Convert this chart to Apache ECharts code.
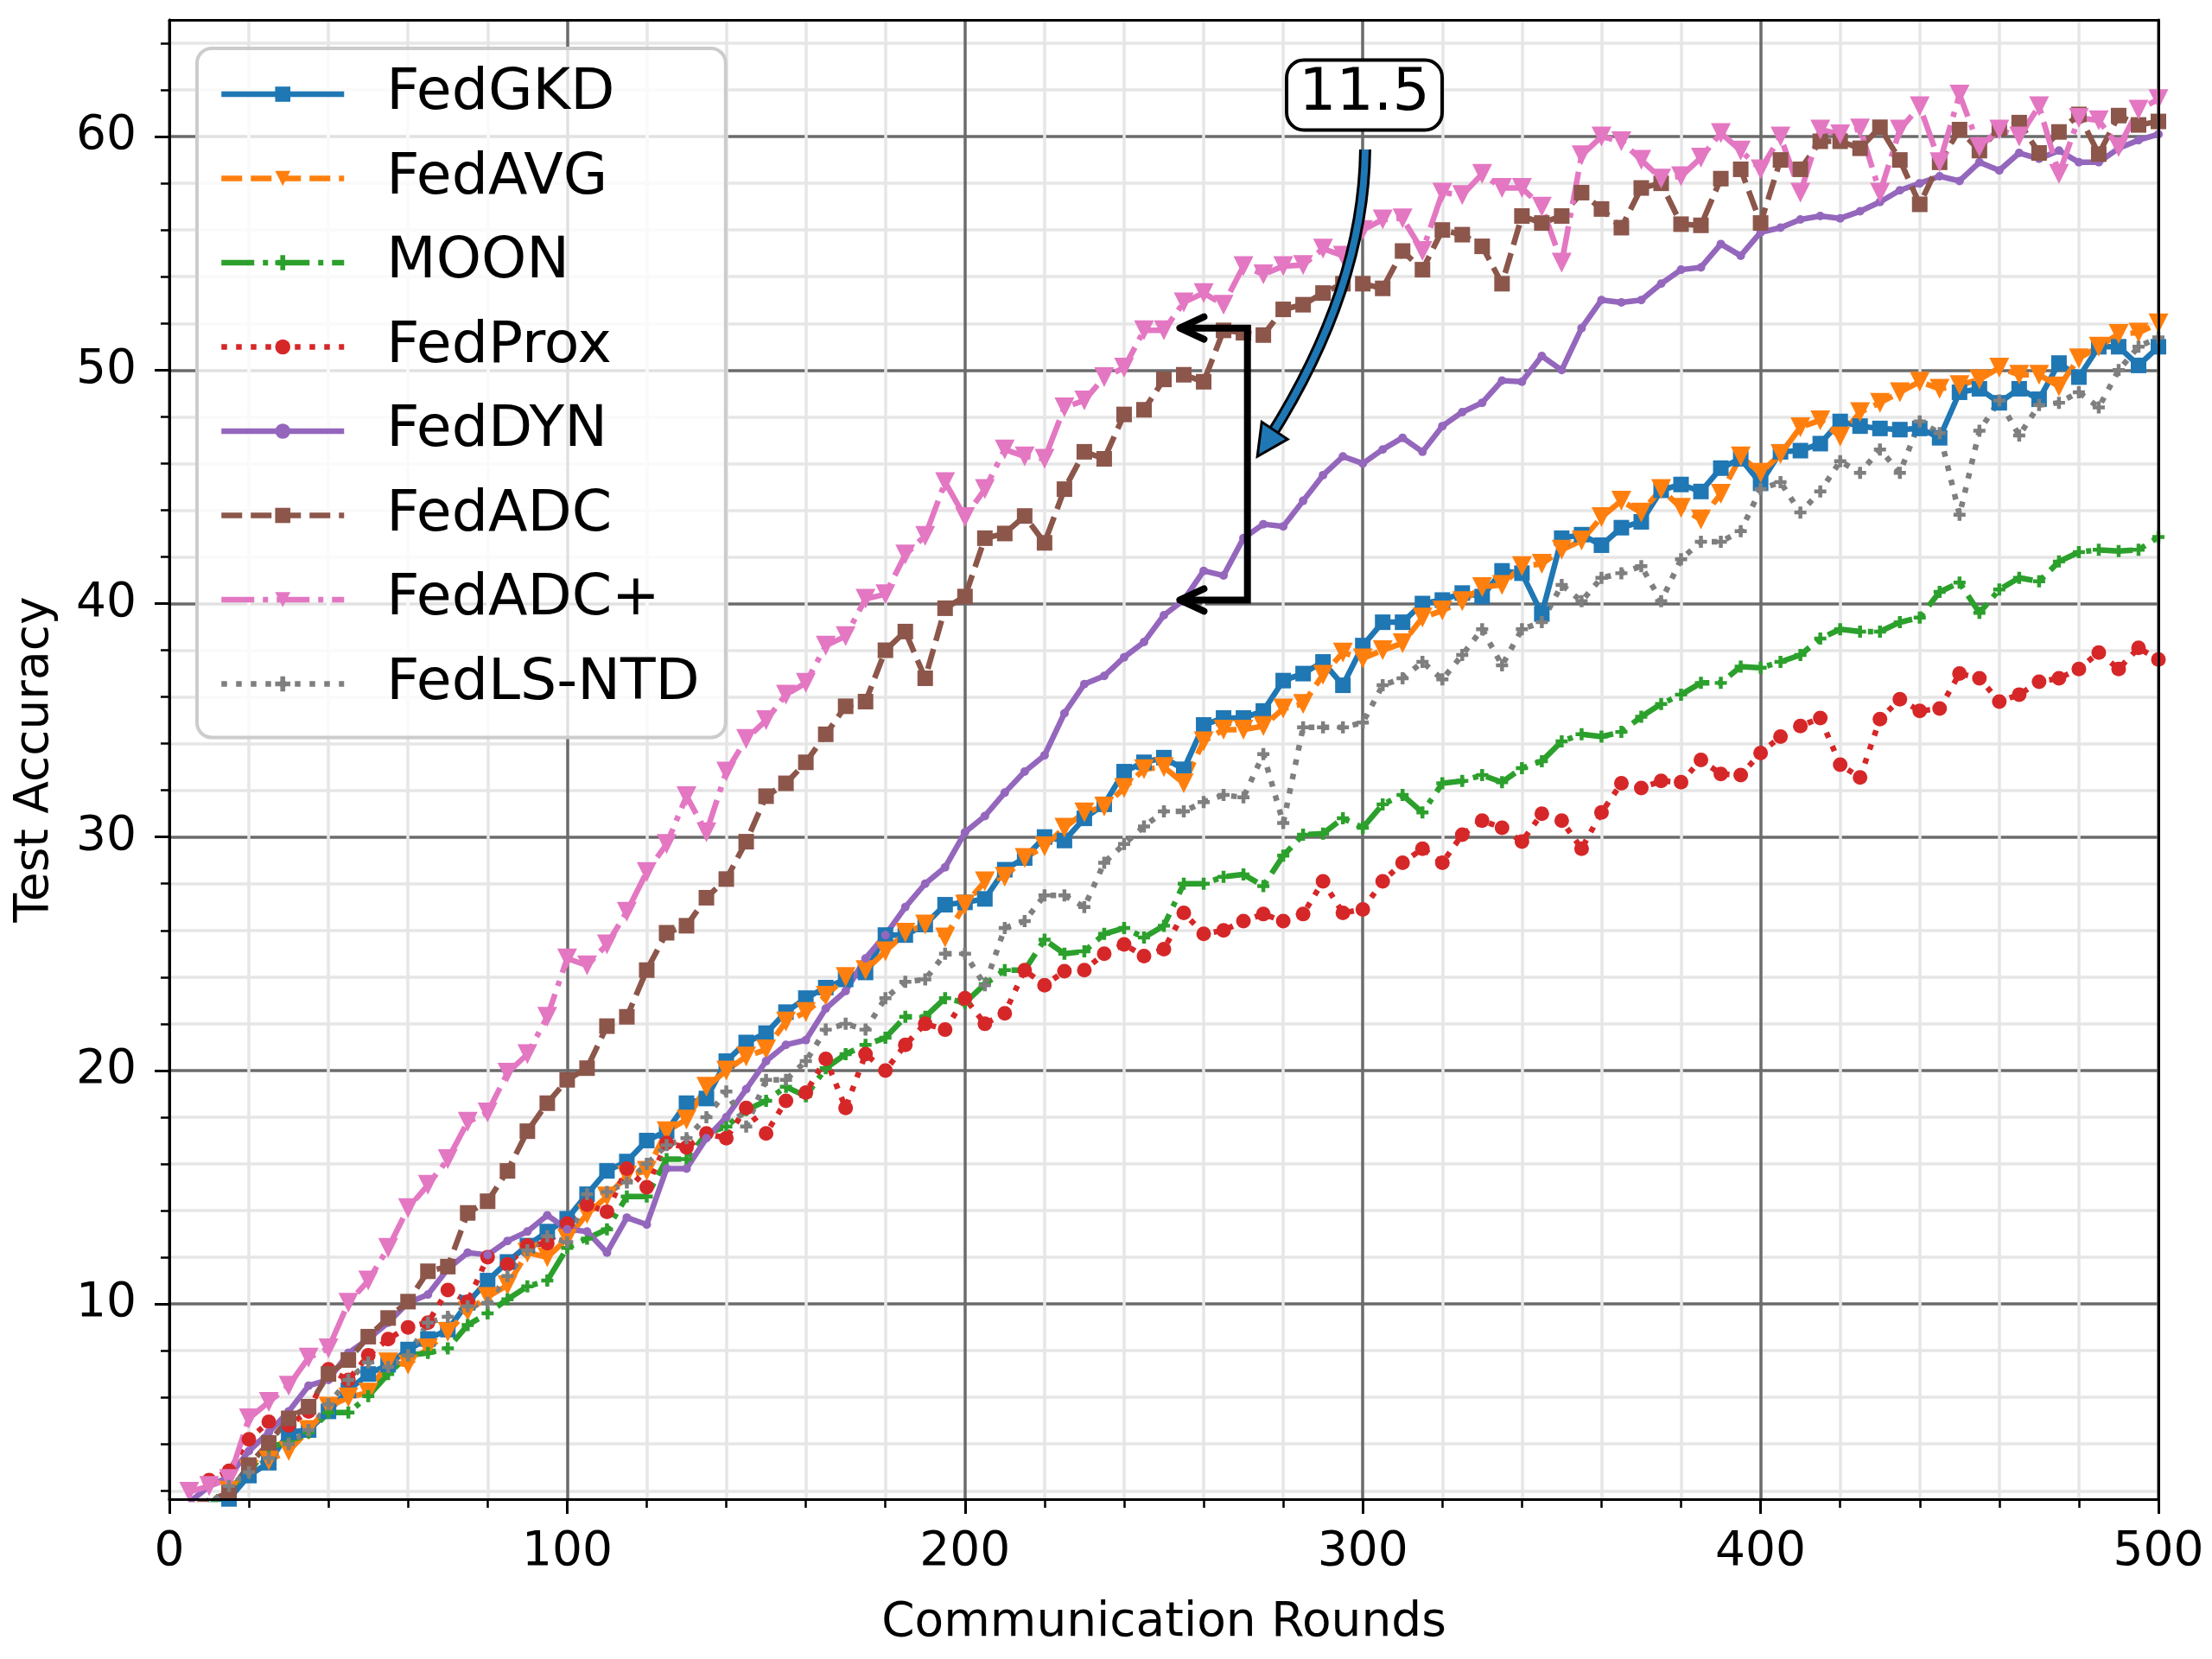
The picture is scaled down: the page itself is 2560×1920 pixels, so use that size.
<!DOCTYPE html>
<html>
<head>
<meta charset="utf-8">
<title>Test Accuracy vs Communication Rounds</title>
<script src="https://cdn.jsdelivr.net/npm/echarts@6/dist/echarts.min.js"></script>
<style>
  html, body { margin: 0; padding: 0; background: #ffffff; }
  #app { width: 2560px; height: 1920px; }
</style>
</head>
<body>
<div id="app"></div>
<script>
// communication rounds (one reading every 5 rounds)
var rounds = [5,10,15,20,25,30,35,40,45,50,55,60,65,70,75,80,85,90,95,100,
  105,110,115,120,125,130,135,140,145,150,155,160,165,170,175,180,185,190,195,200,
  205,210,215,220,225,230,235,240,245,250,255,260,265,270,275,280,285,290,295,300,
  305,310,315,320,325,330,335,340,345,350,355,360,365,370,375,380,385,390,395,400,
  405,410,415,420,425,430,435,440,445,450,455,460,465,470,475,480,485,490,495,500];

var fedGKD = [0.9,1.4,1.65,2.65,3.2,4.5,4.6,5.4,6.3,7.0,7.4,8.05,8.5,8.9,10.05,11.0,11.8,12.5,13.1,13.65,
  14.7,15.7,16.1,17.0,17.4,18.6,18.8,20.4,21.2,21.6,22.5,23.1,23.55,23.9,24.2,25.8,25.8,26.25,27.1,27.2,
  27.35,28.6,29.1,30.0,29.85,30.8,31.4,32.8,33.2,33.4,32.9,34.8,35.1,35.1,35.4,36.7,37.0,37.5,36.5,38.2,
  39.2,39.2,40.0,40.15,40.45,40.3,41.4,41.3,39.55,42.8,42.95,42.5,43.25,43.5,44.85,45.1,44.8,45.8,46.2,45.15,
  46.5,46.55,46.85,47.8,47.6,47.5,47.45,47.5,47.1,49.05,49.2,48.6,49.2,48.75,50.3,49.7,51.0,51.0,50.2,51.0];

var fedAVG = [1.0,1.4,2.0,2.9,3.3,3.7,4.6,5.6,6.0,6.2,7.5,7.4,8.1,8.8,9.7,10.3,10.8,12.2,12.0,12.8,
  13.85,14.6,15.5,15.7,17.4,17.9,19.3,20.0,20.6,20.9,22.1,22.5,23.2,24.0,24.3,25.1,25.9,26.25,25.7,27.1,
  28.1,28.3,29.1,29.6,30.4,31.05,31.3,32.1,32.9,33.0,32.3,34.1,34.6,34.6,34.75,35.5,35.7,36.95,37.9,37.65,
  38.0,38.3,39.4,39.7,40.1,40.7,40.8,41.6,41.7,42.3,42.7,43.7,44.4,43.9,44.9,44.1,43.6,44.7,46.3,45.6,
  46.4,47.55,47.85,47.15,48.2,48.6,49.05,49.5,49.2,49.35,49.6,50.1,49.8,49.8,49.3,50.5,51.0,51.55,51.6,52.0];

var moon = [0.9,1.3,2.1,2.8,3.9,4.05,4.5,5.35,5.35,6.05,7.0,7.8,7.9,8.1,9.1,9.6,10.2,10.75,11.0,12.4,
  12.8,13.2,14.6,14.6,16.2,16.2,17.3,17.6,18.3,18.7,19.3,18.9,20.1,20.7,21.1,21.4,22.3,22.3,23.1,22.9,
  23.7,24.3,24.3,25.6,25.0,25.1,25.85,26.1,25.7,26.2,28.0,28.0,28.3,28.4,27.9,29.2,30.1,30.15,30.8,30.4,
  31.4,31.8,31.05,32.3,32.4,32.65,32.35,32.95,33.25,34.1,34.4,34.3,34.5,35.15,35.7,36.1,36.6,36.6,37.3,37.25,
  37.5,37.8,38.5,38.9,38.8,38.8,39.2,39.4,40.5,40.9,39.6,40.6,41.1,40.95,41.8,42.2,42.3,42.25,42.3,42.85];

var fedProx = [1.4,2.45,2.85,4.2,4.95,4.8,5.4,7.2,6.75,7.8,8.5,9.0,9.2,10.6,10.1,12.0,11.7,12.5,12.6,13.45,
  14.25,13.95,15.8,15.0,16.9,16.7,17.3,17.1,18.4,17.3,18.7,19.05,20.5,18.4,20.7,20.0,21.1,22.0,21.75,23.1,
  22.0,22.45,24.3,23.65,24.25,24.3,25.0,25.4,24.9,25.2,26.75,25.85,26.0,26.4,26.7,26.4,26.7,28.1,26.75,26.9,
  28.1,28.9,29.5,28.9,30.1,30.7,30.4,29.8,31.0,30.7,29.5,31.05,32.3,32.1,32.4,32.35,33.3,32.7,32.65,33.6,
  34.3,34.75,35.1,33.1,32.55,35.05,35.9,35.4,35.5,37.0,36.8,35.8,36.1,36.65,36.8,37.2,37.9,37.2,38.1,37.6];

var fedDYN = [1.5,2.2,2.6,3.7,4.5,5.4,6.5,6.75,7.9,8.5,9.2,10.05,10.4,11.5,12.2,12.1,12.7,13.1,13.8,13.2,
  13.1,12.2,13.7,13.4,15.8,15.8,17.1,18.0,19.2,20.4,21.1,21.3,22.65,23.4,24.8,25.8,27.0,28.0,28.7,30.2,
  30.9,31.9,32.8,33.5,35.3,36.55,36.9,37.7,38.35,39.5,40.15,41.4,41.2,42.8,43.4,43.3,44.4,45.5,46.3,46.0,
  46.6,47.1,46.5,47.6,48.2,48.6,49.55,49.5,50.6,50.0,51.8,53.0,52.9,53.0,53.7,54.3,54.4,55.4,54.9,55.9,
  56.1,56.45,56.6,56.5,56.8,57.2,57.7,58.0,58.3,58.1,58.9,58.55,59.3,59.05,59.4,58.9,58.9,59.5,59.85,60.1];

var fedADC = [1.3,1.6,1.9,3.1,4.05,5.1,5.6,7.0,7.6,8.6,9.4,10.1,11.4,11.6,13.9,14.4,15.7,17.4,18.6,19.6,
  20.1,21.9,22.3,24.3,25.9,26.2,27.4,28.2,29.8,31.75,32.3,33.2,34.4,35.6,35.8,38.0,38.8,36.8,39.8,40.3,
  42.8,43.0,43.75,42.6,44.9,46.5,46.2,48.1,48.3,49.6,49.8,49.5,51.7,51.6,51.5,52.6,52.8,53.3,53.7,53.7,
  53.5,55.1,54.3,56.0,55.8,55.3,53.7,56.6,56.3,56.6,57.6,56.9,56.1,57.8,58.0,56.25,56.2,58.2,58.6,56.3,
  59.0,58.6,59.8,59.8,59.5,60.4,59.0,57.1,58.9,60.3,59.4,60.35,60.6,59.3,60.2,60.95,59.25,60.9,60.5,60.65];

var fedADCPlus = [1.95,2.2,2.5,5.1,5.8,6.5,7.7,8.1,10.05,11.0,12.4,14.1,15.1,16.2,17.8,18.2,19.9,20.7,22.3,24.8,
  24.5,25.4,26.8,28.5,29.7,31.75,30.2,32.8,34.2,35.0,36.1,36.6,38.2,38.6,40.2,40.4,42.1,42.9,45.2,43.7,
  44.9,46.6,46.3,46.2,48.4,48.7,49.7,50.1,51.7,51.7,52.9,53.3,52.8,54.45,54.1,54.45,54.5,55.2,54.9,56.0,
  56.45,56.5,55.1,57.6,57.5,58.4,57.8,57.8,57.0,54.6,59.2,60.0,59.8,59.0,58.2,58.3,59.1,60.15,59.4,58.6,
  60.0,57.6,60.3,60.1,60.35,57.6,60.3,61.3,58.9,61.8,59.55,60.3,60.0,61.3,58.4,60.8,60.7,59.55,61.15,61.6];

var fedLSNTD = [1.0,1.4,2.2,2.8,3.4,4.0,4.6,5.7,6.75,7.5,7.3,7.8,9.2,9.45,9.9,10.05,11.2,12.3,12.9,12.65,
  14.7,14.8,15.2,16.0,16.8,17.1,18.0,19.1,17.6,19.6,19.6,20.4,21.75,22.0,21.75,23.1,23.8,23.9,25.0,25.0,
  23.65,26.1,26.4,27.5,27.5,27.0,28.9,29.7,30.45,31.1,31.1,31.5,31.8,31.7,33.55,30.6,34.7,34.7,34.7,34.9,
  36.5,36.8,37.5,36.75,37.8,38.9,37.35,38.9,39.2,40.8,40.1,41.1,41.3,41.6,40.1,41.9,42.65,42.65,43.1,44.9,
  45.2,43.9,44.8,46.1,45.6,46.6,45.6,47.8,47.3,43.8,47.4,48.7,47.2,48.5,48.6,49.05,48.4,50.0,51.0,51.4];

// y axis tick values
var yMajorTicks = [10, 20, 30, 40, 50, 60];
var yMinorTicks = [2, 4, 6, 8, 12, 14, 16, 18, 22, 24, 26, 28, 32, 34, 36, 38,
  42, 44, 46, 48, 52, 54, 56, 58, 62, 64];

// annotation: gap between FedADC+ and FedDYN
var gapLabel = '11.5';
var gapTop = 51.8;
var gapBottom = 40.15;

var FONT = 'DejaVu Sans';
var MAJOR_GRID = '#6b6b6b';
var MINOR_GRID = '#e6e6e6';
var Y_MIN = 1.64, Y_MAX = 65;
var LW = 6.5;
var PLUS = 'path://M3.4,0H6.6V3.4H10V6.6H6.6V10H3.4V6.6H0V3.4H3.4Z';

function lineSeries(name, values, color, dash, symbol, size, rotate) {
  return {
    name: name,
    type: 'line',
    data: rounds.map(function (r, i) { return [r, values[i]]; }),
    symbol: symbol,
    symbolSize: size,
    symbolRotate: rotate || 0,
    showAllSymbol: true,
    lineStyle: { color: color, width: LW, type: dash },
    itemStyle: { color: color },
    emphasis: { disabled: true },
    z: 2
  };
}

var spine = { show: true, onZero: false, lineStyle: { color: '#000', width: 3 } };
function spineAxis(pos) {
  return {
    type: 'value', position: pos, z: 3,
    min: pos === 'top' || pos === 'bottom' ? 0 : Y_MIN,
    max: pos === 'top' || pos === 'bottom' ? 500 : Y_MAX,
    axisLine: spine, axisTick: { show: false }, axisLabel: { show: false },
    splitLine: { show: false }
  };
}

var chart = echarts.init(document.getElementById('app'));
chart.setOption({
  animation: false,
  backgroundColor: '#ffffff',
  grid: { left: 196, right: 62, top: 23, bottom: 185 },
  legend: {
    orient: 'vertical',
    left: 228, top: 56,
    padding: [19, 30, 28, 25],
    itemWidth: 142, itemHeight: 22, itemGap: 29.5,
    backgroundColor: 'rgba(255,255,255,0.8)',
    borderColor: '#cccccc', borderWidth: 4, borderRadius: 17,
    lineStyle: { width: LW },
    textStyle: { fontFamily: FONT, fontSize: 66.5, color: '#000', lineHeight: 68, padding: [0, 0, 0, 44] },
    data: ['FedGKD', 'FedAVG', 'MOON', 'FedProx', 'FedDYN', 'FedADC', 'FedADC+', 'FedLS-NTD']
  },
  xAxis: [
    {
      type: 'value', position: 'bottom', min: 0, max: 500, interval: 100,
      name: 'Communication Rounds', nameLocation: 'middle', nameGap: 116,
      nameTextStyle: { fontFamily: FONT, fontSize: 55, color: '#000' },
      axisLine: spine,
      axisTick: { show: true, length: 17, lineStyle: { color: '#000', width: 3 } },
      minorTick: { show: true, splitNumber: 5, length: 10, lineStyle: { color: '#000', width: 2.5 } },
      axisLabel: { fontFamily: FONT, fontSize: 55, color: '#000', margin: 34 },
      splitLine: { show: true, lineStyle: { color: MAJOR_GRID, width: 3.5 } },
      minorSplitLine: { show: true, lineStyle: { color: MINOR_GRID, width: 3.5 } }
    },
    spineAxis('top'),
    spineAxis('bottom')
  ],
  yAxis: [
    {
      type: 'value', position: 'left', min: Y_MIN, max: Y_MAX,
      name: 'Test Accuracy', nameLocation: 'middle', nameGap: 128, nameRotate: 90,
      nameTextStyle: { fontFamily: FONT, fontSize: 55, color: '#000' },
      axisLine: spine,
      axisTick: { show: true, length: 17, customValues: yMajorTicks, lineStyle: { color: '#000', width: 3 } },
      axisLabel: { customValues: yMajorTicks, fontFamily: FONT, fontSize: 55, color: '#000', margin: 38 },
      splitLine: { show: true, lineStyle: { color: MAJOR_GRID, width: 3.5 } }
    },
    {
      type: 'value', position: 'left', min: Y_MIN, max: Y_MAX,
      axisLine: { show: false, onZero: false },
      axisTick: { show: true, length: 10, customValues: yMinorTicks, lineStyle: { color: '#000', width: 2.5 } },
      axisLabel: { show: false },
      splitLine: { show: true, lineStyle: { color: MINOR_GRID, width: 3.5 } }
    },
    spineAxis('left'),
    spineAxis('right')
  ],
  series: [
    lineSeries('FedGKD', fedGKD, '#1f77b4', 'solid', 'rect', 18),
    lineSeries('FedAVG', fedAVG, '#ff7f0e', [24, 10], 'triangle', 23, 180),
    lineSeries('MOON', moon, '#2ca02c', [38, 10, 6, 10], PLUS, 14),
    lineSeries('FedProx', fedProx, '#d62728', [6.5, 10.5], 'circle', 17),
    lineSeries('FedDYN', fedDYN, '#9467bd', 'solid', 'circle', 10),
    lineSeries('FedADC', fedADC, '#8c564b', [24, 10], 'rect', 18),
    lineSeries('FedADC+', fedADCPlus, '#e377c2', [38, 10, 6, 10], 'triangle', 23, 180),
    lineSeries('FedLS-NTD', fedLSNTD, '#7f7f7f', [6.5, 10.5], PLUS, 14)
  ]
});

// annotations placed from data coordinates
function px(pt) { return chart.convertToPixel({ xAxisIndex: 0, yAxisIndex: 0 }, pt); }

var tTop = px([254, gapTop]), cTop = px([271, gapTop]);
var cBot = px([271, gapBottom]), tBot = px([254, gapBottom]);
function chevron(t) {
  return {
    type: 'polyline', z: 10,
    shape: { points: [[t[0] + 28, t[1] - 13], t, [t[0] + 28, t[1] + 13]] },
    style: { stroke: '#000', lineWidth: 8, fill: 'none', lineCap: 'round', lineJoin: 'round' }
  };
}

var s = px([300.6, 59.45]), c = px([300.2, 53.1]), e = px([273.5, 46.3]);
var dx = e[0] - c[0], dy = e[1] - c[1], len = Math.sqrt(dx * dx + dy * dy);
var ux = dx / len, uy = dy / len;
var headLen = 36, headHalf = 18;
var base = [e[0] - ux * headLen, e[1] - uy * headLen];
// cut the shaft where the head starts
var t0 = 1 - headLen / (2 * len) + 0.02;
var c1 = [s[0] + (c[0] - s[0]) * t0, s[1] + (c[1] - s[1]) * t0];
var c2 = [c[0] + (e[0] - c[0]) * t0, c[1] + (e[1] - c[1]) * t0];
var cut = [c1[0] + (c2[0] - c1[0]) * t0, c1[1] + (c2[1] - c1[1]) * t0];
var shaft = { x1: s[0], y1: s[1], cpx1: c1[0], cpy1: c1[1], x2: cut[0], y2: cut[1] };

var box = px([300.4, 61.8]);

chart.setOption({
  graphic: [
    {
      type: 'polyline', z: 10,
      shape: { points: [tTop, cTop, cBot, tBot] },
      style: { stroke: '#000', lineWidth: 8, fill: 'none', lineJoin: 'miter' }
    },
    chevron(tTop),
    chevron(tBot),
    { type: 'bezierCurve', z: 10, shape: shaft, style: { stroke: '#000', lineWidth: 14, fill: 'none' } },
    { type: 'bezierCurve', z: 10, shape: shaft, style: { stroke: '#1f77b4', lineWidth: 8, fill: 'none' } },
    {
      type: 'polygon', z: 10,
      shape: { points: [e, [base[0] - uy * headHalf, base[1] + ux * headHalf], [base[0] + uy * headHalf, base[1] - ux * headHalf]] },
      style: { fill: '#1f77b4', stroke: '#000', lineWidth: 3, lineJoin: 'miter' }
    },
    {
      type: 'rect', z: 10,
      shape: { x: box[0] - 90, y: box[1] - 40, width: 180, height: 81, r: 20 },
      style: { fill: '#ffffff', stroke: '#000', lineWidth: 4 }
    },
    {
      type: 'text', z: 11, x: box[0], y: box[1],
      style: { text: gapLabel, fontFamily: FONT, fontSize: 68, fill: '#000', align: 'center', verticalAlign: 'middle' }
    }
  ]
});
</script>
</body>
</html>
